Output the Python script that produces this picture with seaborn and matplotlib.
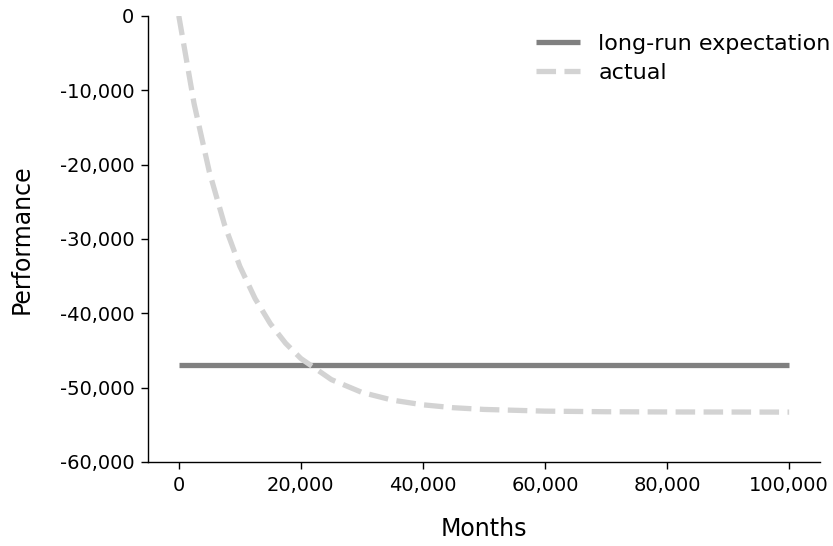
import numpy as np
import pandas as pd
import matplotlib
matplotlib.use("Agg")
import matplotlib.pyplot as plt
import matplotlib.ticker as mticker
import seaborn as sns

## values
months = [0, 2500, 5000, 7500, 10000, 12500, 15000, 17500, 20000, 25000,
          30000, 35000, 40000, 45000, 50000, 60000, 70000, 80000, 90000, 100000]
actual = [0, -11790, -20970, -28120, -33690, -38030, -41410, -44040, -46090, -48930,
          -50650, -51690, -52320, -52710, -52940, -53170, -53250, -53280, -53290, -53300]
expectation = [-47000] * len(months)

df = pd.DataFrame({'Months': months, 'actual': actual, 'expectation': expectation})

sns.set_style("ticks")
plt.rcParams['font.family'] = 'sans-serif'
plt.rcParams['font.sans-serif'] = ['DejaVu Sans']
plt.rcParams['text.color'] = 'black'
plt.rcParams['axes.labelcolor'] = 'black'

fig, ax = plt.subplots(figsize=(8.33, 5.46), dpi=100)
sns.lineplot(data=df, x='Months', y='expectation', color='#808080', linewidth=3.8,
             label='long-run expectation', ax=ax)
sns.lineplot(data=df, x='Months', y='actual', color='#d3d3d3', linewidth=3.8,
             linestyle='--', label='actual', ax=ax)
for ln in ax.get_lines():
    ln.set_solid_capstyle('butt')
    ln.set_dash_capstyle('butt')

ax.set_ylim(-60000, 0)
ax.set_xlim(-5000, 105000)
ax.set_yticks(np.arange(-60000, 1, 10000))
ax.set_xticks(np.arange(0, 100001, 20000))
fmt = mticker.FuncFormatter(lambda v, p: f"{v:,.0f}")
ax.xaxis.set_major_formatter(fmt)
ax.yaxis.set_major_formatter(fmt)
ax.tick_params(labelsize=14, length=5, width=1, colors='black', pad=5)
ax.set_xlabel('Months', fontsize=17, labelpad=16)
ax.set_ylabel('Performance', fontsize=17, labelpad=19)
sns.despine(ax=ax)
for s in ['left', 'bottom']:
    ax.spines[s].set_color('black')
    ax.spines[s].set_linewidth(1)

ax.legend(frameon=False, fontsize=16, loc='upper right', bbox_to_anchor=(1.046, 1.005),
          handlelength=2, labelspacing=0.42)

fig.subplots_adjust(left=0.178, right=0.984, top=0.971, bottom=0.154)
plt.savefig('out.png', dpi=100)
